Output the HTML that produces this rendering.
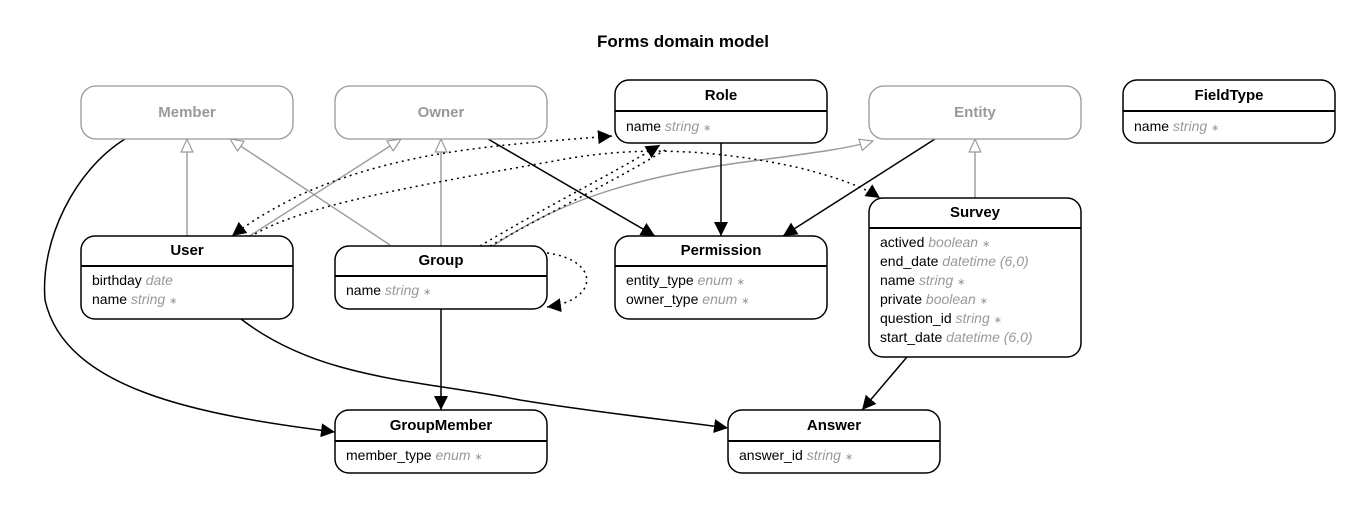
<!DOCTYPE html>
<html><head><meta charset="utf-8"><style>
html,body{margin:0;padding:0;background:#fff;}
svg{display:block;font-family:"Liberation Sans",sans-serif;}
.b{font-weight:bold;font-size:15px;text-anchor:middle;}
.f{font-size:14px;fill:#000;}
.t{fill:#999;font-style:italic;}
.s{fill:#999;font-size:10px;}
</style></head><body>
<svg width="1368" height="505" viewBox="0 0 1368 505">
<defs>
<marker id="a" viewBox="0 0 10 10" refX="10" refY="5" markerWidth="14" markerHeight="14" markerUnits="userSpaceOnUse" orient="auto"><path d="M0,0 L10,5 L0,10 z" fill="#000"/></marker>
<marker id="as" viewBox="0 0 10 10" refX="0" refY="5" markerWidth="14" markerHeight="14" markerUnits="userSpaceOnUse" orient="auto"><path d="M10,0 L0,5 L10,10 z" fill="#000"/></marker>
<marker id="h" viewBox="0 0 10 10" refX="10" refY="5" markerWidth="17" markerHeight="13" markerUnits="userSpaceOnUse" orient="auto"><path d="M0,0.5 L10,5 L0,9.5 z" fill="#fff" stroke="#999" stroke-width="0.9"/></marker>
</defs>
<text x="683" y="47" class="b" style="font-size:17px">Forms domain model</text>

<g stroke="#999" stroke-width="1.4" fill="none">
<line x1="187" y1="236" x2="187" y2="139" marker-end="url(#h)"/>
<line x1="390" y1="245" x2="230" y2="139" marker-end="url(#h)"/>
<line x1="248" y1="237" x2="401" y2="139" marker-end="url(#h)"/>
<line x1="441" y1="246" x2="441" y2="139" marker-end="url(#h)"/>
<line x1="975" y1="198" x2="975" y2="139" marker-end="url(#h)"/>
<path d="M493,246 C560,200 640,175 760,160 C820,152 850,148 873,141" marker-end="url(#h)"/>
</g>

<g stroke="#000" stroke-width="1.5" fill="none">
<line x1="488" y1="139" x2="655" y2="236" marker-end="url(#a)"/>
<line x1="721" y1="143" x2="721" y2="236" marker-end="url(#a)"/>
<line x1="935" y1="139" x2="783" y2="236" marker-end="url(#a)"/>
<line x1="907" y1="357" x2="862" y2="410" marker-end="url(#a)"/>
<line x1="441" y1="309" x2="441" y2="410" marker-end="url(#a)"/>
<path d="M125,139 C75,170 40,240 45,300 C65,390 200,415 335,432" marker-end="url(#a)"/>
<path d="M241,319 C320,380 420,380 520,400 C600,413 670,420 728,428" marker-end="url(#a)"/>
</g>

<g stroke="#000" stroke-width="1.5" fill="none" stroke-dasharray="2,4">
<path d="M612,136 C500,145 400,150 300,195 C270,210 250,222 232,236" marker-start="url(#as)" marker-end="url(#a)"/>
<path d="M250,237 C300,205 420,185 560,160 C640,145 720,150 800,168 C840,178 865,188 880,198" marker-end="url(#a)"/>
<path d="M480,246 C540,210 610,175 660,145" marker-end="url(#a)"/>
<path d="M490,246 C550,212 620,178 665,150"/>
<path d="M547,253 C600,260 600,300 547,307" marker-end="url(#a)"/>
</g>

<g fill="#fff" stroke="#999" stroke-width="1.3">
<rect x="81" y="86" width="212" height="53" rx="15"/>
<rect x="335" y="86" width="212" height="53" rx="15"/>
<rect x="869" y="86" width="212" height="53" rx="15"/>
</g>
<text x="187" y="117" class="b" fill="#999">Member</text>
<text x="441" y="117" class="b" fill="#999">Owner</text>
<text x="975" y="117" class="b" fill="#999">Entity</text>

<g fill="#fff" stroke="#000" stroke-width="1.5">
<rect x="615" y="80" width="212" height="63" rx="14"/><line x1="615" y1="111" x2="827" y2="111" stroke-width="2"/>
<rect x="1123" y="80" width="212" height="63" rx="14"/><line x1="1123" y1="111" x2="1335" y2="111" stroke-width="2"/>
<rect x="81" y="236" width="212" height="83" rx="14"/><line x1="81" y1="266" x2="293" y2="266" stroke-width="2"/>
<rect x="335" y="246" width="212" height="63" rx="14"/><line x1="335" y1="276" x2="547" y2="276" stroke-width="2"/>
<rect x="615" y="236" width="212" height="83" rx="14"/><line x1="615" y1="266" x2="827" y2="266" stroke-width="2"/>
<rect x="869" y="198" width="212" height="159" rx="14"/><line x1="869" y1="228" x2="1081" y2="228" stroke-width="2"/>
<rect x="335" y="410" width="212" height="63" rx="14"/><line x1="335" y1="441" x2="547" y2="441" stroke-width="2"/>
<rect x="728" y="410" width="212" height="63" rx="14"/><line x1="728" y1="441" x2="940" y2="441" stroke-width="2"/>
</g>
<text x="721" y="100" class="b">Role</text>
<text x="1229" y="100" class="b">FieldType</text>
<text x="187" y="255" class="b">User</text>
<text x="441" y="265" class="b">Group</text>
<text x="721" y="255" class="b">Permission</text>
<text x="975" y="217" class="b">Survey</text>
<text x="441" y="430" class="b">GroupMember</text>
<text x="834" y="430" class="b">Answer</text>

<g class="f">
<text x="626" y="131">name <tspan class="t">string</tspan> <tspan class="s">∗</tspan></text>
<text x="1134" y="131">name <tspan class="t">string</tspan> <tspan class="s">∗</tspan></text>
<text x="92" y="285">birthday <tspan class="t">date</tspan></text>
<text x="92" y="304">name <tspan class="t">string</tspan> <tspan class="s">∗</tspan></text>
<text x="346" y="295">name <tspan class="t">string</tspan> <tspan class="s">∗</tspan></text>
<text x="626" y="285">entity_type <tspan class="t">enum</tspan> <tspan class="s">∗</tspan></text>
<text x="626" y="304">owner_type <tspan class="t">enum</tspan> <tspan class="s">∗</tspan></text>
<text x="880" y="247">actived <tspan class="t">boolean</tspan> <tspan class="s">∗</tspan></text>
<text x="880" y="266">end_date <tspan class="t">datetime (6,0)</tspan></text>
<text x="880" y="285">name <tspan class="t">string</tspan> <tspan class="s">∗</tspan></text>
<text x="880" y="304">private <tspan class="t">boolean</tspan> <tspan class="s">∗</tspan></text>
<text x="880" y="323">question_id <tspan class="t">string</tspan> <tspan class="s">∗</tspan></text>
<text x="880" y="342">start_date <tspan class="t">datetime (6,0)</tspan></text>
<text x="346" y="460">member_type <tspan class="t">enum</tspan> <tspan class="s">∗</tspan></text>
<text x="739" y="460">answer_id <tspan class="t">string</tspan> <tspan class="s">∗</tspan></text>
</g>
</svg>
</body></html>
